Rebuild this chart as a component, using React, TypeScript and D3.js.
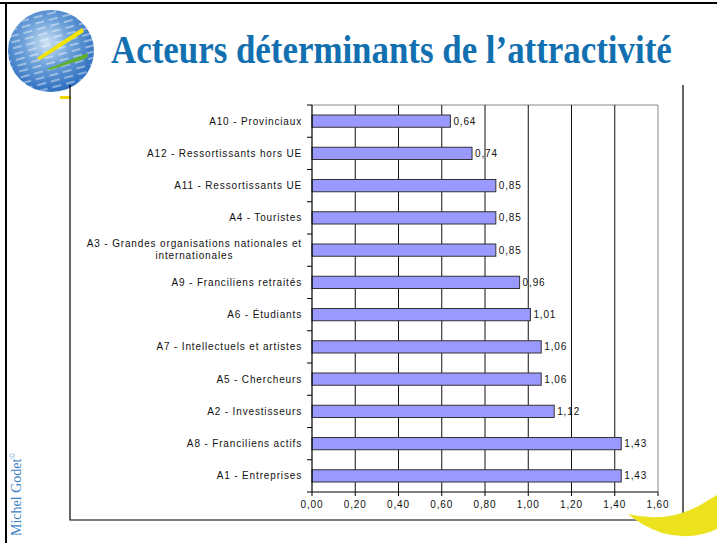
import React from "react";
import * as d3 from "d3";

const categories = [
  "A10 - Provinciaux",
  "A12 - Ressortissants hors UE",
  "A11 - Ressortissants UE",
  "A4 - Touristes",
  "A3 - Grandes organisations nationales et internationales",
  "A9 - Franciliens retraités",
  "A6 - Étudiants",
  "A7 - Intellectuels et artistes",
  "A5 - Chercheurs",
  "A2 - Investisseurs",
  "A8 - Franciliens actifs",
  "A1 - Entreprises",
];
const values = [0.64, 0.74, 0.85, 0.85, 0.85, 0.96, 1.01, 1.06, 1.06, 1.12, 1.43, 1.43];
const ticks = [0, 0.2, 0.4, 0.6, 0.8, 1.0, 1.2, 1.4, 1.6];
const title = "Acteurs déterminants de l’attractivité";
const author = "Michel Godet";

const W = 717;
const H = 543;
const FONT = "'Liberation Sans', Arial, sans-serif";
const FS = 10;
const LS = 0.85;
const TITLE_FONT = "'Liberation Serif', 'Times New Roman', serif";
const TITLE_FS = 40;

function measure(text: string, font: string, ls: number): number {
  if (typeof document === "undefined") return text.length * 6;
  const c = document.createElement("canvas");
  const ctx = c.getContext("2d")!;
  ctx.font = font;
  return ctx.measureText(text).width + ls * text.length;
}

const fmt = (v: number) => d3.format(".2f")(v).replace(".", ",");

export default function App() {
  const x = d3.scaleLinear().domain([0, 1.6]).range([312, 658]);
  const y = d3.scaleBand().domain(categories).range([105, 492]).paddingInner(0.62).paddingOuter(0.31);
  const band = d3.scaleBand().domain(categories).range([105, 492]);
  const bw = band.bandwidth();
  const labelRight = 302;

  const titleNatural = measure(title, `bold ${TITLE_FS}px 'Liberation Serif', 'Times New Roman', serif`, 0);
  const titleScale = 561 / titleNatural;

  const splitLabel = (c: string): string[] => {
    if (c.startsWith("A3 - ")) return ["A3 - Grandes organisations nationales et", "internationales"];
    return [c];
  };

  return (
    <svg width={W} height={H} style={{ position: "absolute", left: 0, top: 0, background: "#fff" }}>
      <defs>
        <radialGradient id="globe" cx="45%" cy="40%" r="60%">
          <stop offset="0%" stopColor="#cfe2f5" />
          <stop offset="45%" stopColor="#6fa3da" />
          <stop offset="100%" stopColor="#2f6fc0" />
        </radialGradient>
        <pattern id="streaks" width="14" height="6" patternUnits="userSpaceOnUse" patternTransform="rotate(-15)">
          <rect width="14" height="6" fill="none" />
          <line x1="0" y1="2" x2="9" y2="2" stroke="#ffffff" strokeOpacity="0.55" strokeWidth="1.5" />
        </pattern>
      </defs>
      <rect x={0} y={0} width={W} height={H} fill="#fff" />
      {/* slide border */}
      <line x1={0} x2={W} y1={3} y2={3} stroke="#000" strokeWidth={2} />
      <line x1={6} x2={6} y1={3} y2={H} stroke="#000" strokeWidth={2} />

      {/* logo */}
      <ellipse cx={51} cy={51} rx={43} ry={41} fill="url(#globe)" />
      <ellipse cx={51} cy={51} rx={43} ry={41} fill="url(#streaks)" />
      <path d="M37,58 L82,28 L84,32 L40,60 Z" fill="#f2e600" />
      <path d="M47,69 L88,53 L87,58 L50,70 Z" fill="#5fb030" />
      <rect x={60} y={96} width={11} height={3} fill="#f2d600" />

      {/* title */}
      <text
        transform={`translate(111,63) scale(${titleScale},1)`}
        x={0}
        y={0}
        fontFamily={TITLE_FONT}
        fontWeight="bold"
        fontSize={TITLE_FS}
        fill="#1270b0"
      >
        {title}
      </text>

      {/* author */}
      <text
        transform="translate(21,536) rotate(-90)"
        fontFamily={TITLE_FONT}
        fontSize={14}
        fill="#3a7fc4"
      >
        {author}
        <tspan fontSize={8} dy={-6}>©</tspan>
      </text>

      {/* chart frame */}
      <path d="M70,85 L70,520 L683,520 L683,85" fill="none" stroke="#000" strokeWidth={1.2} />

      {/* plot area border */}
      <line x1={x(0)} x2={x(1.6)} y1={105} y2={105} stroke="#888" strokeWidth={1} />
      {/* gridlines */}
      {ticks.slice(1).map((t) => (
        <line
          key={"g" + t}
          x1={x(t)}
          x2={x(t)}
          y1={105}
          y2={492}
          stroke={t === 1.6 ? "#888" : "#111"}
          strokeWidth={1}
        />
      ))}

      {/* bars */}
      {categories.map((c, i) => (
        <rect
          key={"b" + c}
          x={x(0)}
          y={y(c)!}
          width={x(values[i]) - x(0)}
          height={y.bandwidth()}
          fill="#9999ff"
          stroke="#333"
          strokeWidth={1}
        />
      ))}

      {/* value labels */}
      {categories.map((c, i) => (
        <text
          key={"v" + c}
          x={x(values[i]) + 3}
          y={band(c)! + bw / 2 + 3.5}
          fontFamily={FONT}
          fontSize={FS}
          letterSpacing={LS}
          fill="#111"
        >
          {fmt(values[i])}
        </text>
      ))}

      {/* axes */}
      <line x1={x(0)} x2={x(0)} y1={105} y2={492} stroke="#000" strokeWidth={1.2} />
      <line x1={x(0)} x2={x(1.6)} y1={492} y2={492} stroke="#000" strokeWidth={1.2} />
      {d3.range(categories.length + 1).map((k) => (
        <line key={"yt" + k} x1={x(0) - 5} x2={x(0)} y1={105 + k * bw} y2={105 + k * bw} stroke="#000" />
      ))}
      {ticks.map((t) => (
        <g key={"xt" + t}>
          <line x1={x(t)} x2={x(t)} y1={492} y2={496} stroke="#000" />
          <text x={x(t)} y={507.5} textAnchor="middle" fontFamily={FONT} fontSize={FS} letterSpacing={LS} fill="#111">
            {fmt(t)}
          </text>
        </g>
      ))}

      {/* category labels */}
      {categories.map((c) => {
        const lines = splitLabel(c);
        const cy = band(c)! + bw / 2;
        if (lines.length === 1) {
          return (
            <text key={"c" + c} x={labelRight} y={cy + 3.5} textAnchor="end" fontFamily={FONT} fontSize={FS} letterSpacing={LS} fill="#111">
              {c}
            </text>
          );
        }
        const w = Math.max(...lines.map((l) => measure(l, `${FS}px 'Liberation Sans', Arial, sans-serif`, LS)));
        const cx = labelRight - w / 2;
        return (
          <text key={"c" + c} textAnchor="middle" fontFamily={FONT} fontSize={FS} letterSpacing={LS} fill="#111">
            {lines.map((l, j) => (
              <tspan key={j} x={cx} y={cy - 3.5 + j * 12.5}>
                {l}
              </tspan>
            ))}
          </text>
        );
      })}

      {/* swoosh */}
      <path
        d="M628,514 Q668,524 702,504 L717,495 L717,529 Q692,541 662,533 Q642,526 628,514 Z"
        fill="#ece21e"
      />
    </svg>
  );
}
